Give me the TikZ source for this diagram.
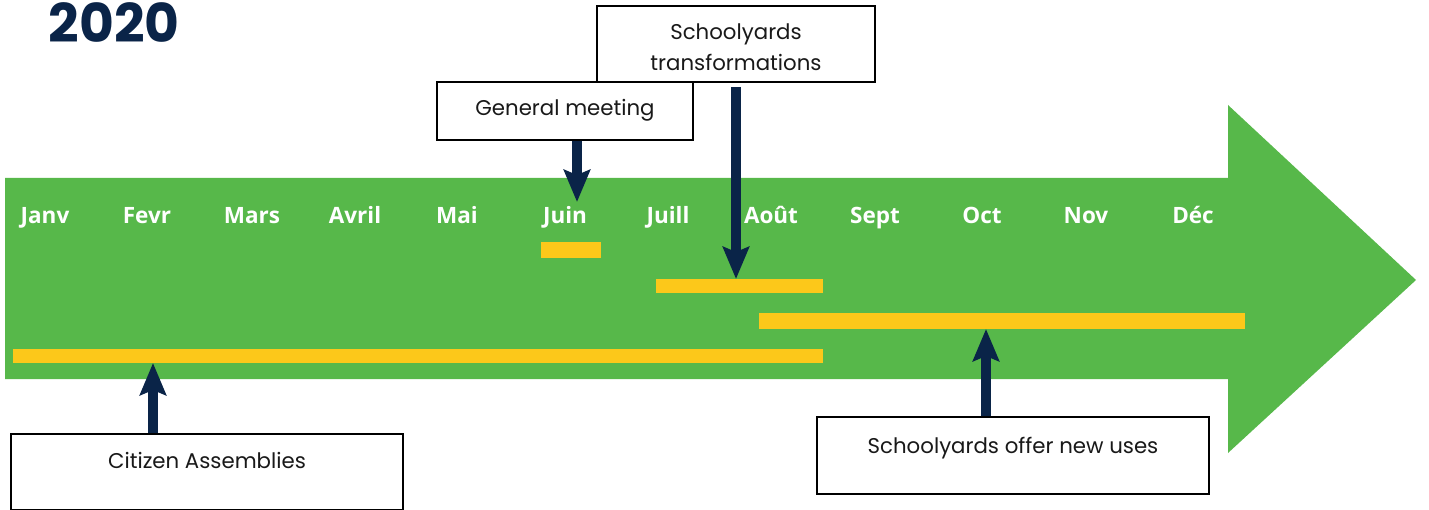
\documentclass[tikz,border=0pt]{standalone}
\usepackage{fontspec}
\setmainfont{Poppins}
\newfontfamily\monthfont{Open Sans}
\usetikzlibrary{arrows.meta}
\definecolor{tlgreen}{RGB}{87,184,74}
\definecolor{tlyellow}{RGB}{252,200,26}
\definecolor{tlnavy}{RGB}{10,36,72}
\begin{document}
\begin{tikzpicture}[x=1pt,y=-1pt,
  box/.style={draw=black, line width=1.2pt, fill=white, inner sep=0pt},
  bar/.style={fill=tlyellow, inner sep=0pt, outer sep=0pt},
  month/.style={text=white, anchor=base, inner sep=0pt, font=\monthfont\bfseries\fontsize{22.5}{26}\selectfont},
  conn/.style={draw=tlnavy, line width=10pt, -{Stealth[length=32pt,width=26pt,inset=5pt]}},
  boxtext/.style={anchor=base, inner sep=0pt, align=center, text=black!90, font=\fontsize{21.3}{31}\selectfont}]
\useasboundingbox (0,0) rectangle (1429,510);
% big green arrow
\fill[tlgreen] (5,178) -- (1228,178) -- (1228,105) -- (1416,280) -- (1228,453) -- (1228,379) -- (5,379) -- cycle;
% title
\node[anchor=base, inner sep=0pt, text=tlnavy, font=\bfseries\fontsize{53.5}{60}\selectfont] (title) at (114,43) {2020};
% months
\foreach \m/\x [count=\i] in {Janv/45, Fevr/147, Mars/252, Avril/355, Mai/457, Juin/565, Juill/668, Août/771, Sept/875, Oct/982, Nov/1086, Déc/1193}
  \node[month] (m\i) at (\x,224) {\m};
% bars
\node[bar, minimum width=60pt, minimum height=16pt] (juinbar) at (571,250) {};
\node[bar, minimum width=167pt, minimum height=14pt] (transbar) at (739.5,286) {};
\node[bar, minimum width=486pt, minimum height=16pt] (offerbar) at (1002,321) {};
\node[bar, minimum width=810pt, minimum height=14pt] (citbar) at (418,356) {};
% boxes
\node[box, minimum width=256pt, minimum height=58pt] (gm) at (565,111) {};
\node[box, minimum width=278pt, minimum height=76pt] (st) at (736,44) {};
\node[box, minimum width=392pt, minimum height=76pt] (cit) at (207,472) {};
\node[box, minimum width=392pt, minimum height=77pt] (off) at (1013,455.5) {};
% box texts
\node[boxtext] (gmt) at (565,116) {General meeting};
\node[boxtext] (stt) at (736,71) {Schoolyards\\transformations};
\node[boxtext] (citt) at (207,468) {Citizen Assemblies};
\node[boxtext] (offt) at (1013,453) {Schoolyards offer new uses};
% connectors
\coordinate (gmtip) at (577,202);
\draw[conn] (gm.south -| gmtip) -- (gmtip);
\coordinate (stx) at (736,87);
\draw[conn] (stx) -- (transbar.north -| stx);
\coordinate (citx) at (153,434);
\draw[conn] (cit.north -| citx) -- (citbar.south -| citx);
\coordinate (offx) at (986,417);
\draw[conn] (off.north -| offx) -- (offerbar.south -| offx);
\end{tikzpicture}
\end{document}
